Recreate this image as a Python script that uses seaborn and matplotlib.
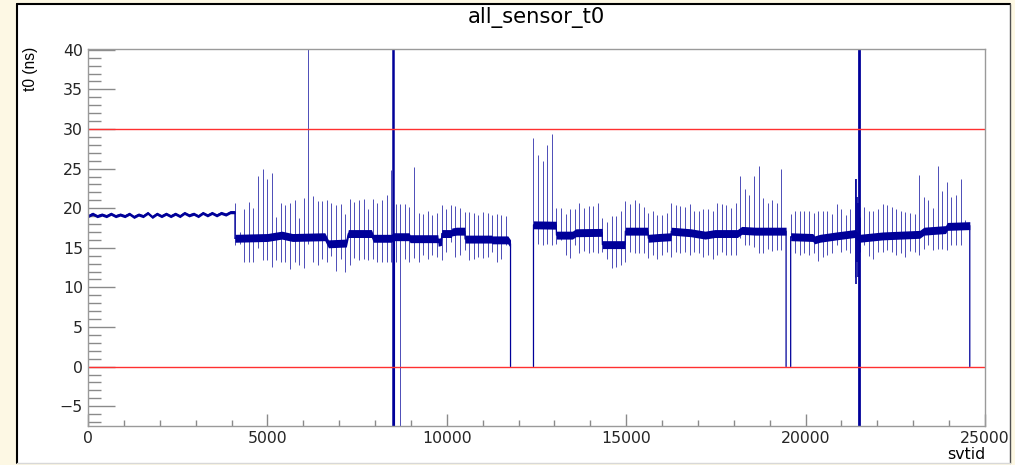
import numpy as np
import pandas as pd
import matplotlib
matplotlib.use("Agg")
import matplotlib.pyplot as plt
from matplotlib.lines import Line2D
from matplotlib.patches import Rectangle
import seaborn as sns

# ---------------------------------------------------------------- data
# first 4096 channels: baseline sampled every 128 channels
ripple_step = 128
ripple_t0 = [19.0, 19.3, 19.0, 19.2, 19.0, 19.3, 19.0, 19.2, 19.0, 19.3, 18.9,
             19.2, 19.0, 19.4, 18.9, 19.3, 19.0, 19.3, 19.0, 19.3, 19.0, 19.4,
             19.1, 19.3, 19.0, 19.4, 19.1, 19.4, 19.1, 19.4, 19.2, 19.5, 19.5]

# baseline knots of the later sensor groups
seg2_svtid = [4096, 5000, 5400, 5700, 6600, 6700, 7200, 7256, 7900, 7950, 8460,
              8500, 8950, 8975, 9750, 9760, 9850, 9860, 10130, 10140, 10270,
              10500, 10510, 11250, 11260, 11700, 11776]
seg2_t0 = [16.2, 16.3, 16.6, 16.3, 16.4, 15.5, 15.6, 16.8, 16.8, 16.2, 16.2,
           16.4, 16.4, 16.15, 16.15, 15.7, 15.8, 16.8, 16.8, 17.0, 17.1,
           17.1, 16.1, 16.1, 16.0, 16.0, 15.5]

seg3_svtid = [12416, 13050, 13056, 13500, 13600, 14330, 14336, 14970, 14976,
              15600, 15616, 15900, 16250, 16256, 16800, 17200, 17470, 18100,
              18220, 18600, 19456]
seg3_t0 = [17.9, 17.85, 16.6, 16.6, 16.9, 16.95, 15.4, 15.4, 17.1,
           17.1, 16.2, 16.3, 16.4, 17.1, 16.9, 16.6, 16.8, 16.8,
           17.2, 17.1, 17.1]

seg4_svtid = [19584, 20200, 20250, 20400, 20860, 21370, 21500, 22150, 23180,
              23300, 23900, 23950, 24576]
seg4_t0 = [16.4, 16.3, 16.0, 16.2, 16.5, 16.8, 16.2, 16.5, 16.7,
           17.1, 17.3, 17.7, 17.8]

# outlier channels at every chip edge (every 128 channels from 4096)
chip_first = 4096
chip_width = 128
spike_hi = [
    20.6, 17.0, 19.95, 20.8, 20.0, 24.06, 24.98, 23.7, 24.5, 18.9,
    20.7, 20.4, 20.6, 21.0, 18.7, 21.3, 45.0, 21.5, 20.9, 20.9,
    21.0, 20.6, 20.4, 20.5, 19.3, 21.1, 20.8, 21.0, 21.1, 19.9,
    21.2, 20.7, 21.0, 21.7, 24.8, 20.5, 20.55, 20.55, 20.2, 25.2,
    19.45, 19.3, 19.6, 19.2, 19.45, 20.4, 19.95, 20.4, 20.3, 20.0,
    19.5, 19.5, 19.45, 19.2, 19.5, 19.45, 19.2, 19.3, 19.2, 19.0,
    np.nan, np.nan, np.nan, np.nan, np.nan, 28.8, 26.7, 26.0, 28.0, 29.4,
    20.0, 20.0, 19.3, 19.9, 19.9, 20.7, 20.0, 20.3, 20.3, 20.7,
    18.7, 18.3, 19.0, 19.0, 19.7, 20.9, 20.5, 21.0, 20.6, 20.2,
    19.45, 19.6, 19.2, 19.1, 19.45, 20.7, 20.4, 20.3, 20.2, 20.5,
    19.7, 19.6, 19.9, 19.95, 19.7, 20.7, 20.5, 20.4, 20.0, 20.7,
    24.1, 22.4, 21.7, 24.1, 25.3, 21.3, 20.7, 21.0, 20.7, 24.98,
    np.nan, 19.3, 19.6, 19.6, 19.7, 19.6, 19.45, 19.6, 19.6, 19.7,
    19.3, 20.5, 19.9, 19.2, 19.95, 23.7, 18.9, 20.2, 19.6, 19.7,
    19.95, 20.5, 20.4, 20.2, 19.9, 19.6, 19.5, 19.45, 19.3, 24.2,
    21.4, 21.0, 20.0, 25.3, 22.2, 23.3, 21.4, 21.7, 23.7, 18.5]
spike_lo = [
    15.3, 15.5, 13.2, 13.15, 13.15, 15.0, 13.4, 13.4, 12.6, 13.5,
    13.2, 13.2, 12.3, 13.2, 12.8, 12.5, 15.5, 13.2, 12.8, 13.6,
    13.15, 14.0, 12.05, 13.6, 11.9, 12.8, 13.7, 13.5, 13.6, 13.4,
    13.6, 13.2, 13.2, 13.2, 13.15, 13.2, -12.0, 13.6, 13.2, 13.7,
    13.15, 14.1, 13.6, 14.1, 13.85, 13.4, 14.5, 15.7, 13.85, 14.1,
    14.7, 13.4, 13.6, 13.85, 13.7, 13.85, 14.5, 13.2, 13.6, 15.3,
    np.nan, np.nan, np.nan, np.nan, np.nan, 17.9, 15.5, 15.3, 15.5, 15.4,
    15.5, 16.0, 14.1, 13.7, 15.3, 14.4, 14.6, 14.3, 14.5, 14.3,
    14.5, 13.6, 12.5, 12.6, 12.8, 13.15, 14.5, 14.3, 14.4, 14.3,
    13.7, 14.07, 13.6, 14.07, 14.5, 13.85, 14.5, 14.3, 14.5, 14.07,
    14.5, 14.3, 13.85, 14.07, 13.6, 14.07, 14.5, 14.07, 14.07, 14.07,
    16.2, 15.3, 15.3, 15.1, 14.4, 14.4, 14.9, 14.6, 14.7, 14.7,
    np.nan, 16.4, 14.3, 14.07, 14.3, 14.07, 14.3, 13.3, 13.85, 14.07,
    14.3, 15.3, 14.5, 14.7, 14.3, 11.3, 14.5, 15.3, 13.95, 13.6,
    14.5, 14.5, 14.7, 14.5, 14.07, 14.3, 13.85, 14.6, 14.5, 14.07,
    14.9, 15.3, 14.7, 14.9, 14.9, 14.7, 15.3, 15.3, 15.3, 17.8]

# channels far outside the displayed range
wild_svtid = [8500, 8540, 21480]
wild_lo = [-12.0, -12.0, -12.0]
wild_hi = [45.0, 16.4, 45.0]

# cluster of noisy channels next to svtid 21480
noisy_svtid = [21400, 21430, 21455]
noisy_lo = [10.4, 13.2, 11.3]
noisy_hi = [23.7, 21.4, 20.6]

limit_lines = [30, 0]

# ---------------------------------------------------------------- style
sns.set_theme(style="white")
plt.rcParams["font.family"] = ["DejaVu Sans"]

NAVY = "#000099"
TICK_GREY = "#8a8a8a"
W, H = 1015, 465

fig = plt.figure(figsize=(W / 100, H / 100), dpi=100)
fig.patch.set_facecolor("#fdf8e4")

# white pad with ROOT-like border
fig.patches.append(Rectangle((18 / W, 2 / H), (1010 - 18) / W, (461 - 2) / H,
                             transform=fig.transFigure, facecolor="white",
                             edgecolor="none", zorder=-5))
for xs_, ys_, col, lw_ in [([17, 17], [2, 461], "black", 1.5),
                           ([17, 1010], [461, 461], "black", 1.5),
                           ([1010, 1010], [2, 461], "#505050", 1.0),
                           ([17, 1010], [2, 2], "#d8d8d8", 1.0)]:
    fig.lines.append(Line2D(np.array(xs_) / W, np.array(ys_) / H,
                            transform=fig.transFigure, color=col, lw=lw_, zorder=-4))

ax = fig.add_axes([88 / W, (H - 426) / H, (985 - 88) / W, (426 - 49) / H])
ax.set_zorder(5)
ax.set_facecolor("white")

# ---------------------------------------------------------------- trace
ripple_svtid = list(np.arange(0, 4097, ripple_step))
regions = [(ripple_svtid, ripple_t0, 0.2),
           (seg2_svtid, seg2_t0, 0.5),
           (seg3_svtid, seg3_t0, 0.5),
           (seg4_svtid, seg4_t0, 0.5)]

# band of channel-to-channel scatter
for xs, ys, hw in regions:
    ys = np.asarray(ys, float)
    ax.fill_between(xs, ys - hw, ys + hw, color=NAVY, lw=0, zorder=2)

# trace per sensor group; groups after the first rise from / fall to the
# empty (t0 = 0) channels
rows = []
for i, (xs, ys, _) in enumerate(regions):
    pts = list(zip(xs, ys))
    if i > 1:
        pts = [(xs[0], 0.0)] + pts
    if i > 0:
        pts = pts + [(xs[-1], 0.0)]
    if i == 0:
        pts = pts + [(regions[1][0][0], regions[1][1][0])]
    rows += [(i, x, y) for x, y in pts]
trace = pd.DataFrame(rows, columns=["group", "svtid", "t0"])
sns.lineplot(data=trace, x="svtid", y="t0", units="group", sort=False,
             estimator=None, color=NAVY, lw=0.9, ax=ax, zorder=3)

# chip-edge outliers
chip_svtid = chip_first + chip_width * np.arange(len(spike_hi))
hi = np.asarray(spike_hi, float)
lo = np.asarray(spike_lo, float)
ok = ~np.isnan(hi)
ax.vlines(chip_svtid[ok], lo[ok], hi[ok], color=NAVY, lw=0.7, alpha=0.7, zorder=3)
ax.vlines(noisy_svtid, noisy_lo, noisy_hi, color=NAVY, lw=1.2, zorder=3)
ax.vlines(wild_svtid, wild_lo, wild_hi, color=NAVY, lw=[1.8, 0.8, 2.0], zorder=3)

for yv in limit_lines:
    ax.axhline(yv, color="#ff3030", lw=1.0, zorder=4)

# ---------------------------------------------------------------- axes
ax.set_xlim(0, 25000)
ax.set_ylim(-7.5, 40.1)
ax.set_xticks(np.arange(0, 25001, 5000))
ax.set_xticks(np.arange(0, 25001, 1000), minor=True)
ax.set_yticks(np.arange(-5, 41, 5))
ax.set_yticks(np.arange(-7, 41, 1), minor=True)
ax.set_xlabel("")
ax.set_ylabel("")

ax.tick_params(axis="y", which="major", direction="in", length=19.4, width=1.0,
               color=TICK_GREY, labelsize=11.3, pad=3.6, left=True)
ax.tick_params(axis="y", which="minor", direction="in", length=9.4, width=1.0,
               color=TICK_GREY, left=True)
ax.tick_params(axis="x", which="major", direction="in", length=8.6, width=1.0,
               color=TICK_GREY, labelsize=11.3, pad=3.5, bottom=True)
ax.tick_params(axis="x", which="minor", direction="in", length=4.3, width=1.0,
               color=TICK_GREY, bottom=True)
for side, sp in ax.spines.items():
    sp.set_visible(True)
    sp.set_color("#9a9a9a")
    sp.set_linewidth(1.0)
    sp.set_zorder(5)

fig.text(536.5 / W, 1 - 18 / H, "all_sensor_t0", ha="center", va="center",
         fontsize=15.2, color="black")
fig.text(30 / W, 1 - 47 / H, "t0 (ns)", rotation=90, ha="center", va="top",
         fontsize=11.2, color="black", family=["Liberation Sans", "DejaVu Sans"])
fig.text(985 / W, 1 - 454 / H, "svtid", ha="right", va="center",
         fontsize=11.4, color="black")

fig.savefig("out.png", dpi=100, facecolor=fig.get_facecolor())
